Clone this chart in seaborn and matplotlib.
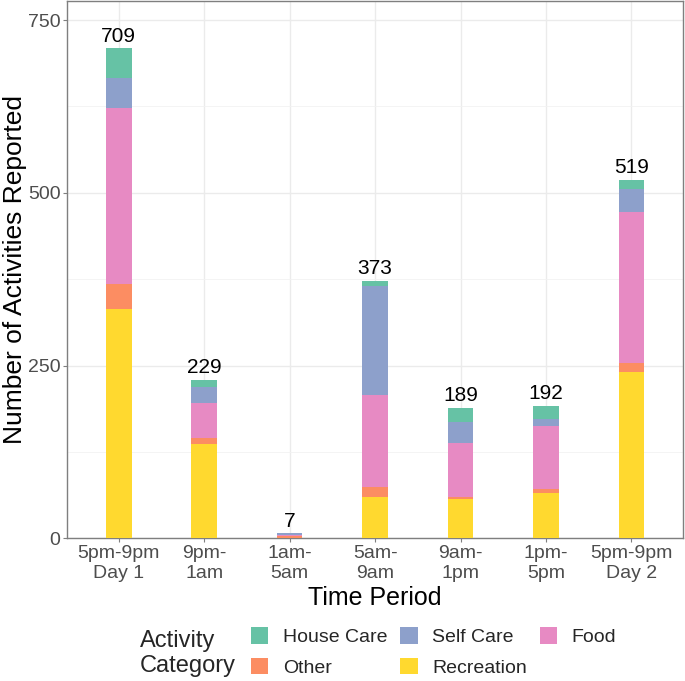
import matplotlib
matplotlib.use("Agg")
import matplotlib.pyplot as plt
import matplotlib.patches as mpatches
from matplotlib.ticker import MultipleLocator
import pandas as pd
import seaborn as sns

# Data
periods = ["5pm-9pm\nDay 1", "9pm-\n1am", "1am-\n5am", "5am-\n9am",
           "9am-\n1pm", "1pm-\n5pm", "5pm-9pm\nDay 2"]
recreation = [332, 136, 1, 60, 57, 65, 241]
other = [36, 9, 2, 14, 3, 7, 13]
food = [255, 51, 2, 134, 78, 90, 218]
self_care = [43, 23, 2, 157, 30, 10, 33]
house_care = [43, 10, 0, 8, 21, 20, 14]

# stacked bottom -> top
stack_order = ["Recreation", "Other", "Food", "Self Care", "House Care"]
colors = {"House Care": "#66C2A5", "Other": "#FC8D62", "Self Care": "#8DA0CB",
          "Food": "#E78AC3", "Recreation": "#FFD92F"}

df = pd.DataFrame({"period": periods, "Recreation": recreation, "Other": other,
                   "Food": food, "Self Care": self_care, "House Care": house_care})
df = df.set_index("period")
cum = df[stack_order].cumsum(axis=1)
totals = df[stack_order].sum(axis=1)

sns.set_theme(style="white")
plt.rcParams["font.family"] = ["Liberation Sans", "DejaVu Sans"]

fig = plt.figure(figsize=(6.85, 6.81), dpi=100)
ax = fig.add_axes([0.0985, 0.2096, 0.8982, 0.7884])

# draw tallest cumulative first so smaller ones sit on top of it
for cat in reversed(stack_order):
    sns.barplot(x=cum.index, y=cum[cat].values, color=colors[cat], width=0.3,
                saturation=1, ax=ax, zorder=3, linewidth=0)

for i, t in enumerate(totals):
    ax.annotate(str(t), (i, t), xytext=(0, 2), textcoords="offset points",
                ha="center", va="bottom", fontsize=15, color="black")

ax.set_xlim(-0.6, 6.6)
ax.set_ylim(0, 777)
ax.yaxis.set_major_locator(MultipleLocator(250))
ax.yaxis.set_minor_locator(MultipleLocator(125))
ax.grid(True, which="major", color="#EBEBEB", linewidth=1.0, zorder=0)
ax.grid(True, which="minor", axis="y", color="#F2F2F2", linewidth=0.6, zorder=0)
ax.set_axisbelow(True)
for s in ax.spines.values():
    s.set_visible(True)
    s.set_color("#7F7F7F")
    s.set_linewidth(1.0)
ax.tick_params(axis="both", which="major", length=3, width=0.8, color="#7F7F7F",
               labelsize=14, labelcolor="#4D4D4D", pad=2, left=True, bottom=True)
ax.tick_params(axis="y", which="minor", length=0)

ax.set_xlabel("Time Period", fontsize=18, color="black", labelpad=3)
ax.set_ylabel("")
fig.text(15 / 685, 0.5 + 0.5 * (0.2096 - 0.002), "Number of Activities Reported",
         rotation=90, fontsize=19, ha="center", va="center", color="black")

# legend: title on the left, items in 3 columns x 2 rows
legend_order = ["House Care", "Other", "Self Care", "Recreation", "Food"]
handles = [mpatches.Patch(facecolor=colors[c], edgecolor="none", label=c) for c in legend_order]
fig.legend(handles=handles, ncol=3, frameon=False, fontsize=14,
           loc="center left", bbox_to_anchor=(0.352, 0.0426),
           handlelength=0.9, handleheight=0.9, handletextpad=0.75,
           columnspacing=0.65, labelspacing=0.6, borderpad=0)
fig.text(0.204, 0.040, "Activity\nCategory", fontsize=17, ha="left", va="center",
         linespacing=1.2)

fig.savefig("out.png", dpi=100)
